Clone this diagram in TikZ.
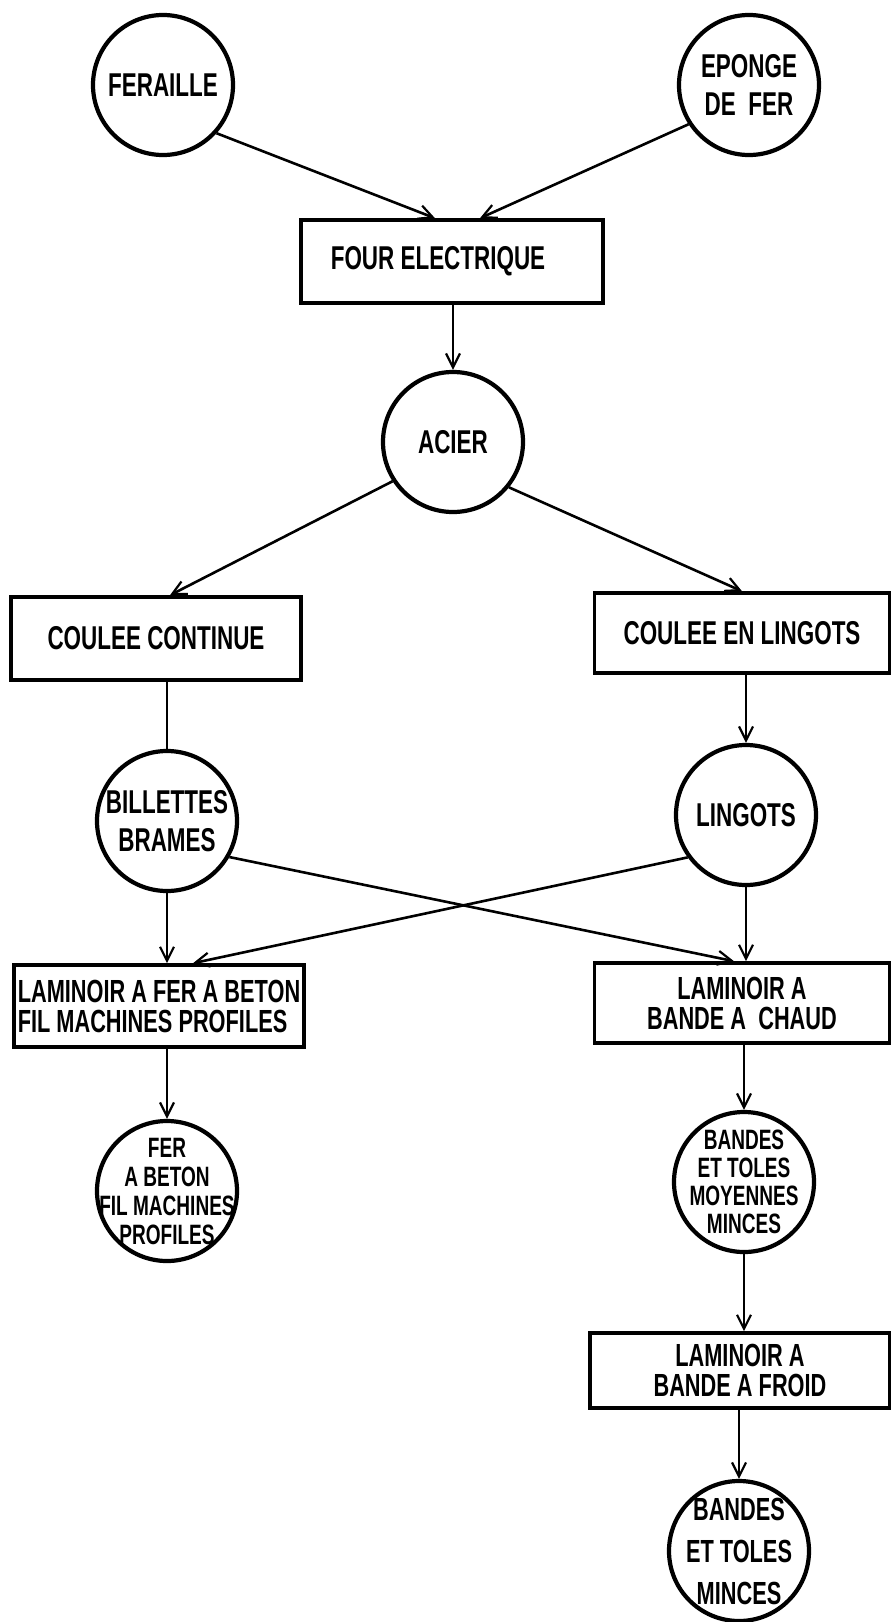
\documentclass[tikz,border=0pt]{standalone}
\usepackage{fontspec}
\setmainfont{Liberation Sans}[FakeStretch=0.68]
\usetikzlibrary{arrows.meta}

\begin{document}
\begin{tikzpicture}[x=1pt,y=-1pt,
  every node/.style={inner sep=0pt, font=\bfseries\fontsize{33}{38}\selectfont},
  every label/.style={align=center},
  proc/.style={draw, line width=3.6pt, rectangle, align=center},
  prod/.style={draw, line width=4.2pt, circle, minimum size=140pt},
  link/.style={line width=2.6pt},
  arr/.style={link, -{Straight Barb[length=14pt,width=14pt,line width=2.2pt]}}
]
\useasboundingbox[fill=white] (0,0) rectangle (891,1622);

% raw materials
\node[prod, label={center:FERAILLE}] (feraille) at (163,85) {};
\node[prod, label={center:EPONGE\\DE\ \ FER}] (eponge) at (749,85) {};

% melting
\node[proc, minimum width=302pt, minimum height=83pt] (four) at (452,261.5) {FOUR ELECTRIQUE\hspace{28pt}};
\node[prod, label={center:ACIER}] (acier) at (453,442) {};

% casting
\node[proc, minimum width=290pt, minimum height=83pt] (cc) at (156,638.5) {COULEE CONTINUE};
\node[proc, minimum width=295pt, minimum height=80pt] (cel) at (742,633) {COULEE EN LINGOTS};

\node[prod, label={center:BILLETTES\\BRAMES}] (billettes) at (167,821) {};
\node[prod, label={center:LINGOTS}] (lingots) at (746,815) {};

% rolling mills
\node[proc, minimum width=290pt, minimum height=82pt, align=left,
  font=\bfseries\fontsize{32}{30}\selectfont] (lfb) at (159,1006)
  {LAMINOIR A FER A BETON\\FIL MACHINES PROFILES};
\node[proc, minimum width=295pt, minimum height=80pt,
  font=\bfseries\fontsize{32}{30}\selectfont] (lbc) at (742,1003)
  {LAMINOIR A\\BANDE A\ \ CHAUD};

\node[prod, label={[font=\bfseries\fontsize{28}{29}\selectfont]center:FER\\A BETON\\FIL MACHINES\\PROFILES}] (ferbeton) at (167,1191) {};
\node[prod, label={[font=\bfseries\fontsize{28}{28}\selectfont]center:BANDES\\ET TOLES\\MOYENNES\\MINCES}] (bandes1) at (744,1182) {};

\node[proc, minimum width=300pt, minimum height=75pt,
  font=\bfseries\fontsize{32}{30}\selectfont] (lbf) at (740,1370.5)
  {LAMINOIR A\\BANDE A FROID};
\node[prod, label={[font=\bfseries\fontsize{32}{42}\selectfont]center:BANDES\\ET TOLES\\MINCES}] (bandes2) at (739,1551) {};

% connectors
\draw[arr] (feraille.-42) -- ([xshift=-17pt]four.north);
\draw[arr] (eponge.-147) -- ([xshift=28pt]four.north);
\draw[arr] (four.south -| acier) -- (acier);
\draw[arr] (acier.-147) -- ([xshift=14pt]cc.north);
\draw[arr] (acier.-39) -- (cel.north);
\draw[link] (cc.south -| billettes) -- (billettes);
\draw[arr] (cel.south -| lingots) -- (lingots);
\draw[arr] (billettes) -- (billettes |- lfb.north);
\draw[arr] (lingots) -- (lingots |- lbc.north);
\draw[arr] (billettes.-30) -- ([xshift=-8pt]lbc.north);
\draw[arr] (lingots.-144) -- ([xshift=34pt]lfb.north);
\draw[arr] (lfb.south -| ferbeton) -- (ferbeton);
\draw[arr] (lbc.south -| bandes1) -- (bandes1);
\draw[arr] (bandes1) -- (bandes1 |- lbf.north);
\draw[arr] (lbf.south -| bandes2) -- (bandes2);
\end{tikzpicture}
\end{document}
